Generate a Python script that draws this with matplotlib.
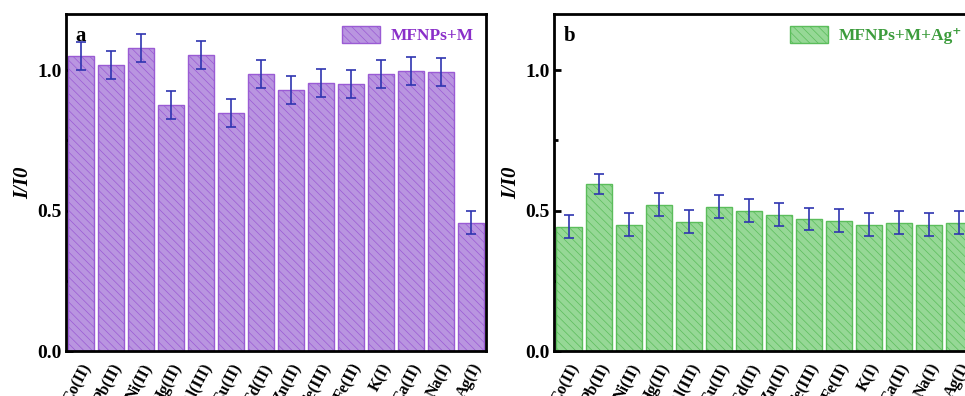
import numpy as np
import matplotlib
matplotlib.use("Agg")
import matplotlib.pyplot as plt

# ---- data ----
ions = ["Co(II)", "Pb(II)", "Ni(II)", "Hg(II)", "Al(III)", "Cu(II)", "Cd(II)",
        "Zn(II)", "Fe(III)", "Fe(II)", "K(I)", "Ca(II)", "Na(I)", "Ag(I)"]

ratio_a = [1.05, 1.02, 1.08, 0.875, 1.054, 0.846, 0.986, 0.93, 0.954, 0.95,
           0.986, 0.996, 0.993, 0.457]
err_a = [0.05, 0.05, 0.05, 0.05, 0.05, 0.05, 0.05, 0.05, 0.05, 0.05,
         0.05, 0.05, 0.05, 0.04]

ratio_b = [0.443, 0.596, 0.45, 0.521, 0.461, 0.514, 0.50, 0.486, 0.471, 0.464,
           0.45, 0.457, 0.45, 0.457]
err_b = [0.04, 0.036, 0.04, 0.04, 0.04, 0.04, 0.04, 0.04, 0.04, 0.04,
         0.04, 0.04, 0.04, 0.04]

plt.rcParams["font.family"] = ["Liberation Serif", "DejaVu Serif"]
plt.rcParams["font.weight"] = "bold"
plt.rcParams["hatch.linewidth"] = 0.5

fig = plt.figure(figsize=(9.65, 3.96), dpi=100)
ax_a = fig.add_axes([0.0684, 0.1136, 0.4352, 0.851])
ax_b = fig.add_axes([0.5741, 0.1136, 0.4352, 0.851])

x = np.arange(len(ions))


def draw_panel(ax, vals, errs, face, edge, txtcol, label, tag):
    ax.bar(x, vals, width=0.84, color=face, edgecolor=edge, linewidth=1.0,
           hatch="\\\\\\\\", label=label, zorder=2)
    ax.errorbar(x, vals, yerr=errs, fmt="none", ecolor="#2f35b0", elinewidth=1.2,
                capsize=3.5, capthick=1.2, zorder=3)
    ax.set_xlim(-0.5, len(ions) - 0.5)
    ax.set_ylim(0, 1.2)
    ax.set_yticks([0.0, 0.5, 1.0])
    ax.set_yticks([0.25, 0.75], minor=True)
    ax.set_xticks(x)
    ax.set_xticklabels(ions, rotation=62, ha="right", rotation_mode="anchor",
                       fontsize=11.5, fontweight="bold")
    ax.tick_params(axis="both", direction="in", width=2.0, length=5)
    ax.tick_params(axis="y", labelsize=14, pad=3)
    ax.tick_params(axis="y", which="minor", direction="in", width=2.0, length=3)
    ax.tick_params(axis="x", pad=7)
    for lbl in ax.get_yticklabels():
        lbl.set_fontweight("bold")
    for sp in ax.spines.values():
        sp.set_linewidth(2.0)
    ax.set_ylabel("I/I0", fontsize=15, fontstyle="italic", fontweight="bold",
                  labelpad=3)
    ax.text(0.022, 0.905, tag, transform=ax.transAxes, fontsize=15,
            fontweight="bold", va="bottom")
    leg = ax.legend(loc="upper right", frameon=False, fontsize=12.5,
                    handlelength=2.2, handleheight=1.1, handletextpad=0.6,
                    borderaxespad=0.3, bbox_to_anchor=(1.0, 1.0))
    for t in leg.get_texts():
        t.set_color(txtcol)
        t.set_fontweight("bold")


draw_panel(ax_a, ratio_a, err_a, "#b995e0", "#9a5bd4", "#8a2fc9", "MFNPs+M", "a")
draw_panel(ax_b, ratio_b, err_b, "#96d896", "#5bbd5b", "#3c9c3c", "MFNPs+M+Ag⁺", "b")

fig.savefig("out.png", dpi=100)
